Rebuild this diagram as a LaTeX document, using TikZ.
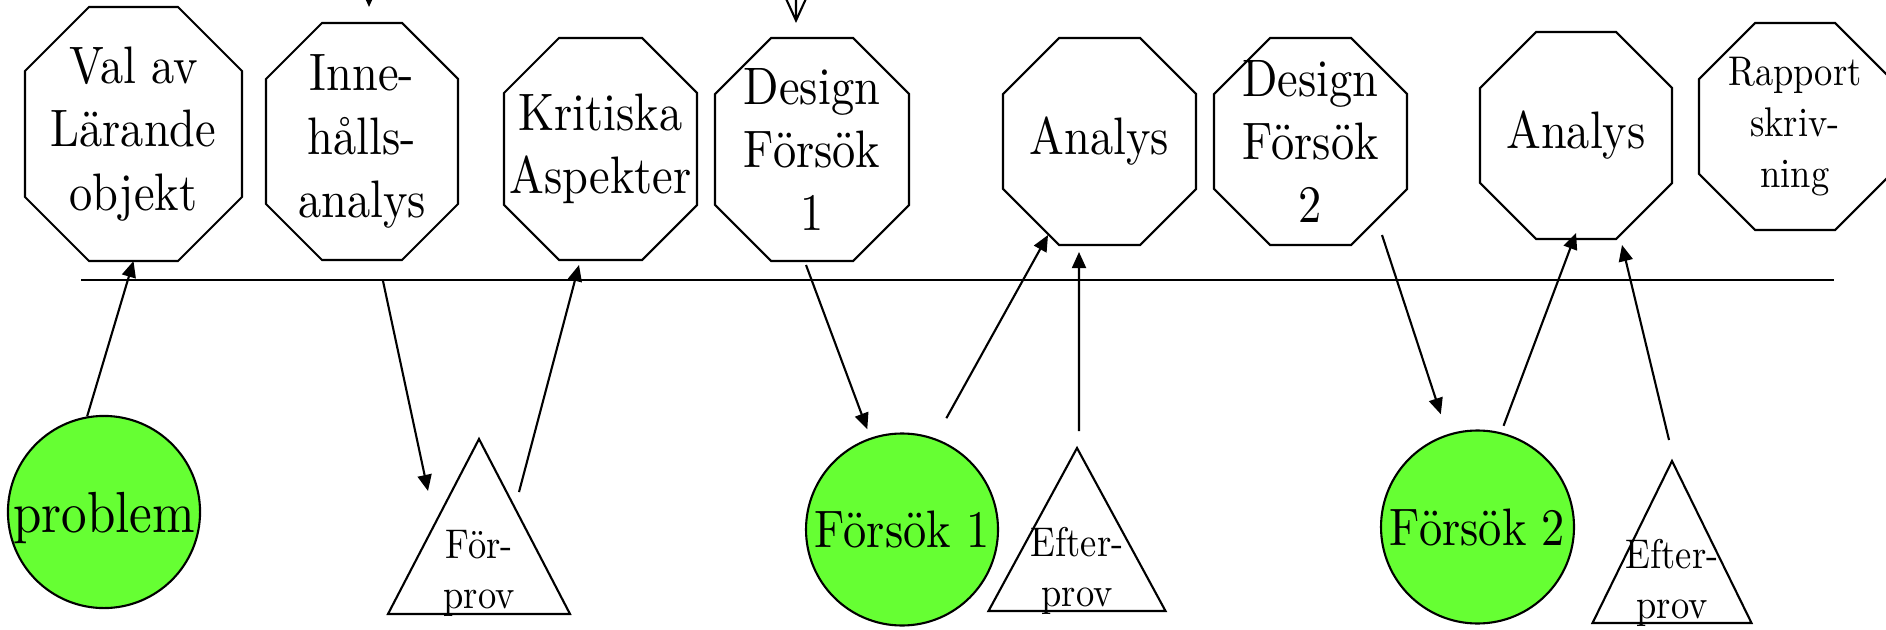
\documentclass[tikz,border=0pt]{standalone}
\usepackage{fontspec}
\setmainfont{lmroman10-regular.otf}[FakeStretch=0.88]
\usetikzlibrary{arrows.meta}
\definecolor{trialgreen}{RGB}{102,255,51}

\begin{document}
\begin{tikzpicture}[line width=0.6pt,
		octa/.style={rectangle,inner sep=0pt,outer sep=0pt,align=center,font={\fontsize{15}{18}\selectfont}},
		trial/.style={circle,draw,fill=trialgreen,minimum size=1.92cm,inner sep=0pt,font={\fontsize{15}{18}\selectfont}},
		prov/.style={inner sep=0pt,align=center,anchor=south,font={\fontsize{11.8}{14.4}\selectfont}},
		arr/.style={-{Triangle[length=4.6pt,width=4pt]}}]
	\useasboundingbox (0,0) rectangle (18.86,6.29);
	% steps above the line
	\node[octa,minimum width=2.17cm,minimum height=2.54cm] (val) at (1.335,4.95) {Val av\\Lärande\\objekt};
	\node[octa,minimum width=1.92cm,minimum height=2.37cm] (inne) at (3.62,4.875) {Inne-\\hålls-\\analys};
	\node[octa,minimum width=1.93cm,minimum height=2.22cm] (krit) at (6.005,4.80) {Kritiska\\Aspekter};
	\node[octa,minimum width=1.94cm,minimum height=2.23cm] (des1) at (8.12,4.795) {Design\\Försök\\1};
	\node[octa,minimum width=1.93cm,minimum height=2.07cm] (ana1) at (10.995,4.875) {Analys};
	\node[octa,minimum width=1.93cm,minimum height=2.07cm] (des2) at (13.105,4.875) {Design\\Försök\\2};
	\node[octa,minimum width=1.92cm,minimum height=2.07cm] (ana2) at (15.76,4.935) {Analys};
	\node[octa,minimum width=1.92cm,minimum height=2.07cm,font={\fontsize{11.8}{14.4}\selectfont}] (rapp) at (17.95,5.025) {Rapport\\skriv-\\ning};
	\foreach \nm/\cut in {val/0.64cm,inne/0.56cm,krit/0.55cm,des1/0.56cm,ana1/0.56cm,des2/0.56cm,ana2/0.56cm,rapp/0.56cm}
		\draw ([xshift=\cut]\nm.north west) -- ([xshift=-\cut]\nm.north east) -- ([yshift=-\cut]\nm.north east) -- ([yshift=\cut]\nm.south east)
			-- ([xshift=-\cut]\nm.south east) -- ([xshift=\cut]\nm.south west) -- ([yshift=\cut]\nm.south west) -- ([yshift=-\cut]\nm.north west) -- cycle;

	\coordinate (tl0) at (0.81,3.49);
	\coordinate (tl1) at (18.34,3.49);
	\draw (tl0) -- (tl1);

	% below the line
	\node[trial,font={\fontsize{16.5}{19}\selectfont},text height=0.52cm] (prob) at (1.04,1.17) {problem};
	\node[trial] (fors1) at (9.02,0.995) {Försök 1};
	\node[trial,minimum size=1.93cm] (fors2) at (14.775,1.02) {Försök 2};

	\coordinate (fptop) at (4.79,1.90);
	\coordinate (e1top) at (10.77,1.81);
	\coordinate (e2top) at (16.72,1.68);
	\draw (fptop) -- ++(-0.91,-1.75) -- ++(1.82,0) -- cycle;
	\draw (e1top) -- ++(-0.885,-1.63) -- ++(1.77,0) -- cycle;
	\draw (e2top) -- ++(-0.795,-1.62) -- ++(1.59,0) -- cycle;
	\node[prov] (forprov) at (4.79,0.11) {För-\\prov};
	\node[prov] (efter1) at (10.77,0.13) {Efter-\\prov};
	\node[prov] (efter2) at (16.72,0.01) {Efter-\\prov};

	\coordinate (inA) at (3.69,6.6);
	\coordinate (inB) at (7.96,6.6);
	\draw[arr] (inA) -- ([shift={(0.07,0.16)}]inne.north);
	\draw[-{Straight Barb[length=6pt,width=5.5pt]}] (inB) -- ([shift={(-0.16,0.15)}]des1.north);

	\draw[arr] (prob.100) -- (val.south);
	\draw[arr] ([shift={(0.21,-0.21)}]inne.south) -- ([shift={(-0.51,-0.52)}]fptop);
	\draw[arr] ([shift={(0.40,-0.53)}]fptop) -- ([shift={(-0.215,-0.05)}]krit.south);
	\draw[arr,shorten >=0.09cm] ([shift={(-0.06,-0.04)}]des1.south) -- (fors1.109);
	\draw[arr,shorten <=0.23cm] (fors1.70) -- ([shift={(0.45,0.10)}]ana1.south west);
	\draw[arr] ([shift={(0.02,0.17)}]e1top) -- ([shift={(-0.205,-0.07)}]ana1.south);
	\draw[arr,shorten >=0.21cm] ([shift={(-0.25,0.10)}]des2.south east) -- (fors2.108);
	\draw[arr,shorten <=0.07cm] (fors2.76) -- ([yshift=0.06cm]ana2.south);
	\draw[arr] ([shift={(-0.03,0.21)}]e2top) -- ([shift={(0.46,-0.06)}]ana2.south);
\end{tikzpicture}
\end{document}
